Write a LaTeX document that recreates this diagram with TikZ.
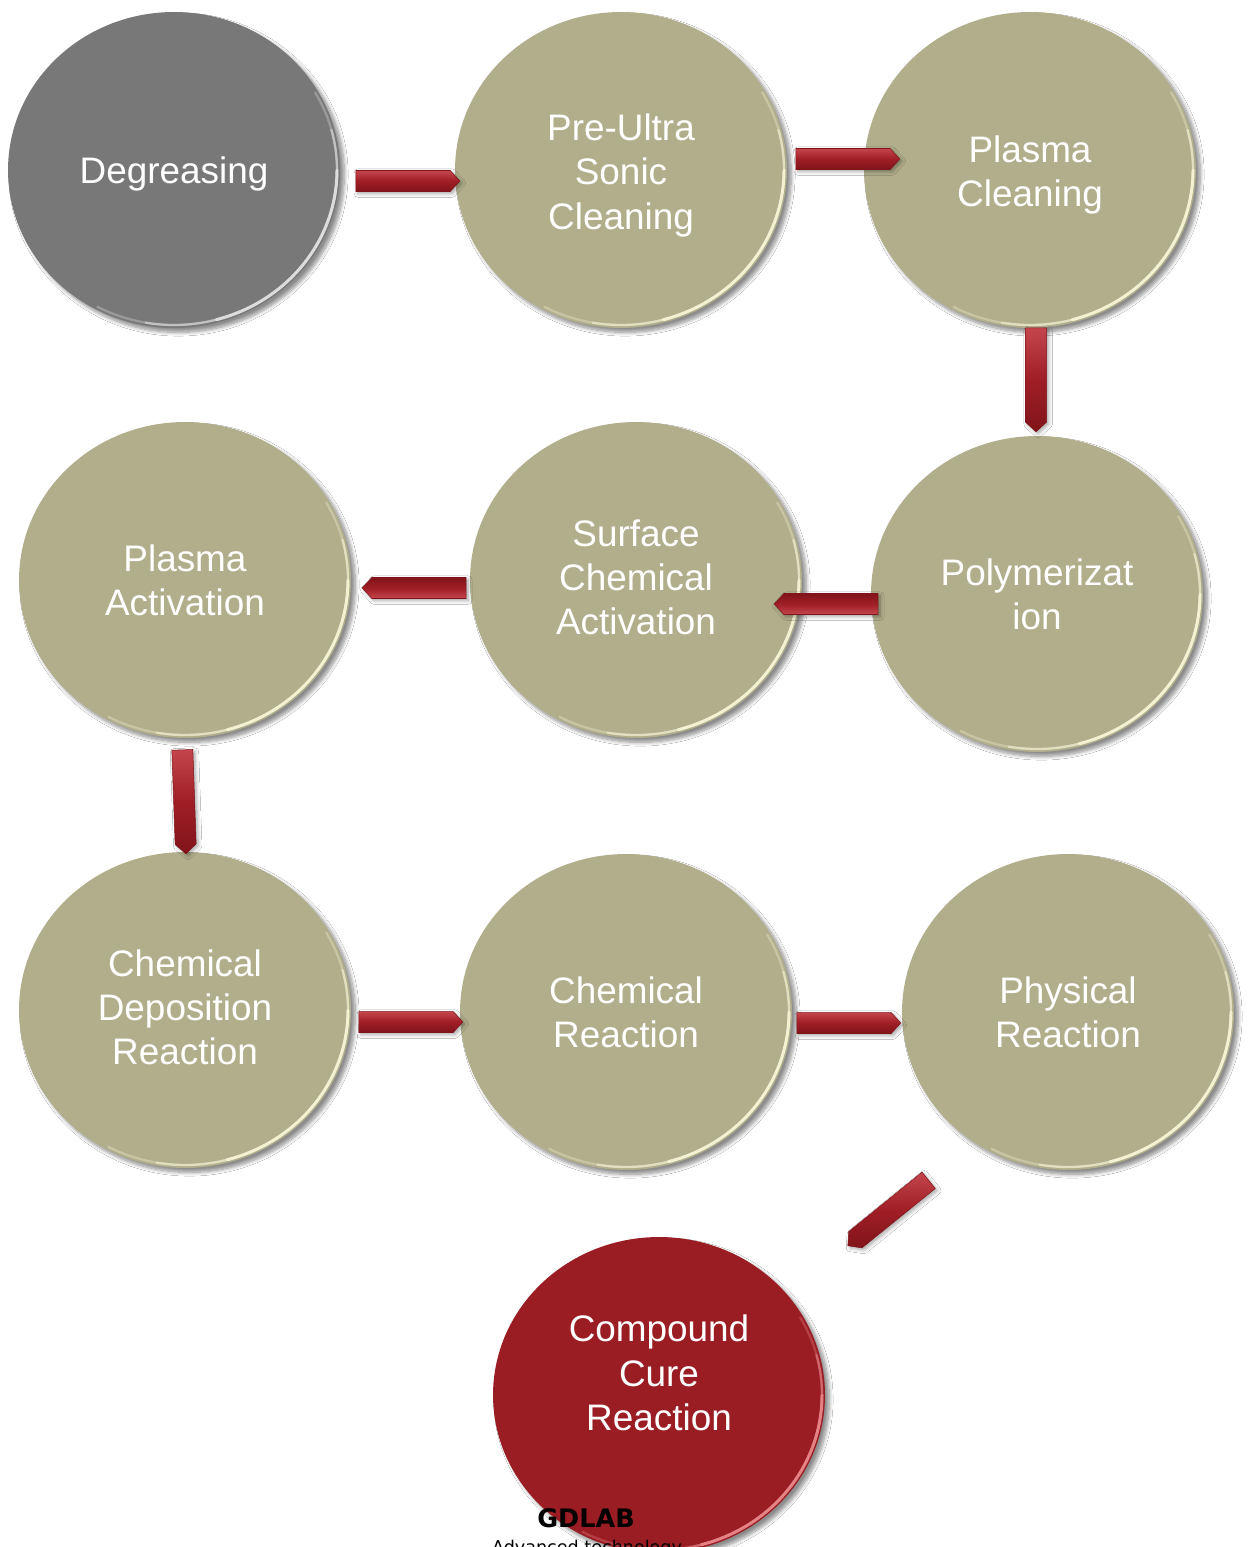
\documentclass[tikz,border=0pt]{standalone}
\usepackage{fontspec}
\setmainfont{Liberation Sans}
\newfontfamily\labfont{DejaVu Sans}
\usetikzlibrary{shapes.geometric,shapes.arrows,shadows.blur}
\definecolor{khaki}{RGB}{176,174,139}
\definecolor{stonegrey}{RGB}{120,120,120}
\definecolor{curered}{RGB}{155,29,36}
\definecolor{arrowred}{RGB}{160,30,38}
\definecolor{arrowlight}{RGB}{196,70,76}
\definecolor{arrowdark}{RGB}{128,20,26}
\definecolor{rimkhaki}{RGB}{242,241,210}
\definecolor{rimgrey}{RGB}{220,220,220}
\definecolor{rimred}{RGB}{228,130,134}
\begin{document}
\begin{tikzpicture}[x=0.02cm,y=-0.02cm,
  stage/.style={ellipse, minimum width=6.64cm, minimum height=6.32cm, inner sep=0pt,
    fill=khaki,
    blur shadow={shadow xshift=2.5pt, shadow yshift=-2.5pt, shadow blur steps=8, shadow opacity=45}},
  stagetext/.style={text=white, align=center, font=\fontsize{21}{25.2}\selectfont, inner sep=0pt},
  rim/.style={line width=1.3pt, line cap=round},
  blockarr/.style={single arrow, single arrow head extend=0pt, single arrow tip angle=95,
    minimum width=0.42cm, minimum height=2.08cm, inner sep=0pt,
    top color=arrowlight, bottom color=arrowdark, middle color=arrowred,
    draw=arrowdark, line width=0.3pt,
    blur shadow={shadow xshift=1.2pt, shadow yshift=-1.2pt, shadow blur steps=5, shadow opacity=35}},
]
\clip (0,0) rectangle (1251,1547);
\fill[white] (0,0) rectangle (1251,1547);

% stages
\node[stage, fill=stonegrey] (deg) at (174,170) {};
\node[stage] (pre) at (621,170) {};
\node[stage] (pc) at (1030,170) {};
\node[stage] (poly) at (1037,594) {};
\node[stage] (sca) at (636,580) {};
\node[stage] (pa) at (185,580) {};
\node[stage] (cdr) at (185,1010) {};
\node[stage] (cr) at (626,1012) {};
\node[stage] (phys) at (1068,1012) {};
\node[stage, fill=curered] (cure) at (659,1395) {};

% rim highlights
\foreach \n/\c in {deg/rimgrey,pre/rimkhaki,pc/rimkhaki,poly/rimkhaki,sca/rimkhaki,pa/rimkhaki,cdr/rimkhaki,cr/rimkhaki,phys/rimkhaki,cure/rimred}{
  \draw[rim, draw=\c, opacity=0.35] (\n.center) ++(-30:163 and 155) arc[start angle=-30, end angle=118, x radius=163, y radius=155];
  \draw[rim, draw=\c, opacity=0.6] (\n.center) ++(-15:163 and 155) arc[start angle=-15, end angle=100, x radius=163, y radius=155];
  \draw[rim, draw=\c, line width=1.7pt] (\n.center) ++(0:163 and 155) arc[start angle=0, end angle=75, x radius=163, y radius=155];
}

% texts
\node[stagetext] (degt) at ([yshift=-2]deg.center) {Degreasing};
\node[stagetext] (pret) at ([yshift=-3]pre.center) {Pre-Ultra\\Sonic\\Cleaning};
\node[stagetext] (pct) at ([yshift=-3]pc.center) {Plasma\\Cleaning};
\node[stagetext] (polyt) at ([yshift=0]poly.center) {Polymerizat\\ion};
\node[stagetext] (scat) at ([yshift=1.5]sca.center) {Surface\\Chemical\\Activation};
\node[stagetext] (pat) at ([yshift=0]pa.center) {Plasma\\Activation};
\node[stagetext] (cdrt) at ([yshift=1.5]cdr.center) {Chemical\\Deposition\\Reaction};
\node[stagetext] (crt) at ([yshift=0]cr.center) {Chemical\\Reaction};
\node[stagetext] (physt) at ([yshift=0]phys.center) {Physical\\Reaction};
\node[stagetext] (curet) at (659,1373) {Compound\\Cure\\Reaction};

% connectors
\node[blockarr] (a1) at (403,181) {};
\node[blockarr] (a2) at (843,159) {};
\node[blockarr, rotate=-90] (a3) at (1036,375) {};
\node[blockarr, rotate=180, shading angle=180] (a4) at (831,604) {};
\node[blockarr, rotate=180, shading angle=180] (a5) at (419,588) {};
\node[blockarr, rotate=-88] (a6) at (184,797) {};
\node[blockarr] (a7) at (406,1022) {};
\node[blockarr] (a8) at (844,1023) {};
\node[blockarr, rotate=-141] (a9) at (892,1210) {};

% footer
\node[anchor=base, font=\labfont\bfseries\fontsize{14.5}{17}\selectfont, text=black, inner sep=0pt] (gd) at (586,1527) {GDLAB};
\node[anchor=base, font=\labfont\fontsize{10}{12}\selectfont, text=black, inner sep=0pt] (adv) at (587,1553) {Advanced technology};
\end{tikzpicture}
\end{document}
